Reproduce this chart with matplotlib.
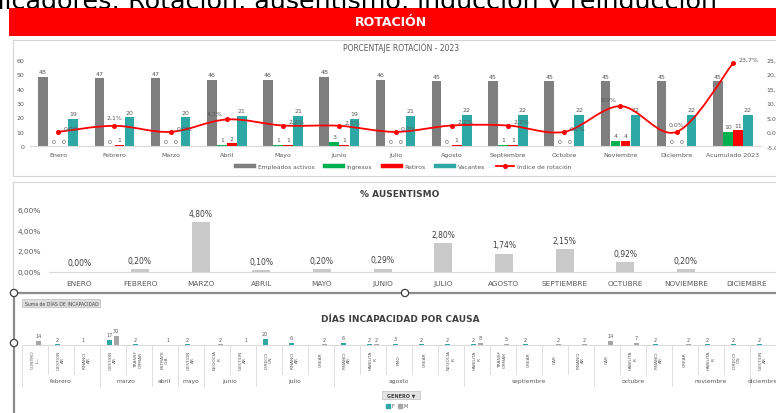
import numpy as np
import matplotlib.pyplot as plt
from matplotlib.path import Path
from matplotlib.patches import PathPatch, Rectangle, Circle, Patch
from matplotlib.lines import Line2D
from matplotlib.ticker import FuncFormatter

W, H = 776, 414

# ─────────────────────────────────────────────
#  Datos
# ─────────────────────────────────────────────
meses_rot = ["Enero", "Febrero", "Marzo", "Abril", "Mayo", "Junio", "Julio", "Agosto",
             "Septiembre", "Octubre", "Noviembre", "Diciembre", "Acumulado 2023"]
empleados = [48, 47, 47, 46, 46, 48, 46, 45, 45, 45, 45, 45, 45]
ingresos = [0, 0, 0, 1, 1, 3, 0, 0, 1, 0, 4, 0, 10]
retiros = [0, 1, 0, 2, 1, 1, 0, 1, 1, 0, 4, 0, 11]
vacantes = [19, 20, 20, 21, 21, 19, 21, 22, 22, 22, 22, 22, 22]
indice_rot = [0.0, 2.1, 0.0, 4.3, 2.2, 2.1, 0.0, 2.2, 2.2, 0.0, 8.9, 0.0, 23.7]

meses_aus = ["ENERO", "FEBRERO", "MARZO", "ABRIL", "MAYO", "JUNIO", "JULIO", "AGOSTO",
             "SEPTIEMBRE", "OCTUBRE", "NOVIEMBRE", "DICIEMBRE"]
ausentismo = [0.00, 0.20, 4.80, 0.10, 0.20, 0.29, 2.80, 1.74, 2.15, 0.92, 0.20, np.nan]

meses_inc = ["febrero", "marzo", "abril", "mayo", "junio", "julio", "agosto",
             "septiembre", "octubre", "noviembre", "diciembre"]
causas_por_mes = [3, 2, 1, 1, 2, 3, 5, 5, 3, 3, 1]
causas = ["CONTRO\nL...", "GESTION\nAR", "FINANCI\nAR",
          "GESTION\nAR", "TRANSF\nORMAR",
          "ESTRATE\nGIA",
          "GESTION\nAR",
          "NEGOCIA\nR", "GESTION\nAR",
          "DIRECCI\nÓN", "FINANCI\nAR", "CREAR",
          "FINANCI\nAR", "HABILITA\nR", "PMO", "CREAR", "NEGOCIA\nR",
          "HABILITA\nR", "TRANSF\nORMAR", "CREAR", "CAR", "FINANCI\nAR",
          "CAR", "HABILITA\nR", "FINANCI\nAR",
          "CREAR", "HABILITA\nR", "DIRECCI\nÓN",
          "GESTION\nAR"]
dias_f = [0, 2, 1, 17, 2, 0, 2, 0, 0, 20, 6, 0, 6, 2, 3, 2, 2, 2, 0, 2, 0, 0, 0, 0, 2, 0, 2, 2, 2]
dias_m = [14, 0, 0, 30, 0, 1, 0, 2, 1, 0, 0, 2, 0, 2, 0, 0, 0, 8, 5, 0, 2, 2, 14, 7, 0, 2, 0, 0, 0]

# colores
GRIS = "#7f7f7f"
VERDE = "#00b050"
ROJO = "#ff0000"
TEAL = "#2ea8a4"
GRIS_M = "#a6a6a6"
TXT = "#595959"

# posición de la etiqueta del índice respecto al punto (d=derecha, a=arriba, i=izq.)
POS_ETQ = ["d", "a", "d", "i", "d", "d", "d", "d", "d", "d", "i", "a", "d"]
OFFSETS = {"d": ((4, 1), "left"), "a": ((0, 4), "center"), "i": ((-3, 3), "right")}


def px_axes(fig, x0, y0, x1, y1):
    """Axes placed by pixel box (origin top-left)."""
    return fig.add_axes([x0 / W, 1 - y1 / H, (x1 - x0) / W, (y1 - y0) / H])


def coma(v, dec):
    return f"{v:.{dec}f}".replace(".", ",")


def smooth_path(xs, ys):
    """Curva suavizada tipo Excel (Catmull-Rom como Bezier cubico)."""
    pts = np.column_stack([xs, ys]).astype(float)
    verts = [pts[0]]
    codes = [Path.MOVETO]
    n = len(pts)
    for i in range(n - 1):
        p0 = pts[max(i - 1, 0)]
        p1 = pts[i]
        p2 = pts[i + 1]
        p3 = pts[min(i + 2, n - 1)]
        verts += [p1 + (p2 - p0) / 6, p2 - (p3 - p1) / 6, p2]
        codes += [Path.CURVE4] * 3
    return Path(verts, codes)


fig = plt.figure(figsize=(W / 100, H / 100), dpi=100)
fig.patch.set_facecolor("white")

# lienzo base para encabezado, marcos y botones
base = fig.add_axes([0, 0, 1, 1])
base.set_xlim(0, W)
base.set_ylim(H, 0)
base.axis("off")

base.text(717, 8.5, "Indicadores: Rotación, ausentismo, inducción y reinducción",
          fontsize=18.3, color="black", ha="right", va="baseline", zorder=0.5)
base.add_patch(Rectangle((9, 9), W - 9, 28, color=ROJO, lw=0, zorder=1))
base.text(391, 23, "ROTACIÓN", fontsize=9, color="white", fontweight="bold",
          ha="center", va="center")

base.add_patch(Rectangle((13, 41), W, 136, fill=False, ec="#d4d4d4", lw=0.8))
base.add_patch(Rectangle((13, 183), W, 111, fill=False, ec="#d4d4d4", lw=0.8))

# ---------------- Porcentaje rotación ----------------
ax = px_axes(fig, 30, 60.7, 761, 147.3)
ax.patch.set_visible(False)
x = np.arange(len(meses_rot))
bw = 0.17
series = [(empleados, GRIS, -0.267), (ingresos, VERDE, -0.089),
          (retiros, ROJO, 0.089), (vacantes, TEAL, 0.267)]
for vals, col, off in series:
    b = ax.bar(x + off, vals, bw, color=col, lw=0)
    ax.bar_label(b, padding=2, fontsize=4.5, color=TXT)
ax.set_xlim(-0.5, len(meses_rot) - 0.5)
ax.set_ylim(0, 60)
ax.set_yticks(range(0, 61, 10))
ax.set_xticks(x)
ax.set_xticklabels(meses_rot)
ax.tick_params(length=0, labelsize=4.5, labelcolor=TXT, pad=4)
for s in ["top", "right", "left"]:
    ax.spines[s].set_visible(False)
ax.spines["bottom"].set_color("#d9d9d9")

ax2 = ax.twinx()
ax2.set_ylim(-5, 25)
ax2.set_yticks(range(-5, 26, 5))
ax2.yaxis.set_major_formatter(FuncFormatter(lambda v, p: coma(v, 1) + "%"))
ax2.tick_params(length=0, labelsize=4.5, labelcolor=TXT, pad=4)
for s in ax2.spines.values():
    s.set_visible(False)
ax2.add_patch(PathPatch(smooth_path(x, indice_rot), fill=False, ec=ROJO, lw=1.3))
ax2.plot(x, indice_rot, "o", color=ROJO, ms=2.6)
for xi, v, pos in zip(x, indice_rot, POS_ETQ):
    off, ha = OFFSETS[pos]
    ax2.annotate(coma(v, 1) + "%", (xi, v), xytext=off, textcoords="offset points",
                 fontsize=4.5, color=TXT, ha=ha, va="bottom")

base.text(401, 47.5, "PORCENTAJE ROTACIÓN - 2023", fontsize=5.5, color=TXT,
          ha="center", va="center")

rot_handles = [Line2D([], [], color=GRIS, lw=3.2),
               Line2D([], [], color=VERDE, lw=3.2),
               Line2D([], [], color=ROJO, lw=3.2),
               Line2D([], [], color=TEAL, lw=3.2),
               Line2D([], [], color=ROJO, lw=1.3, marker="o", ms=2.6)]
fig.legend(rot_handles, ["Empleados activos", "Ingresos", "Retiros", "Vacantes",
                         "Índice de rotación"],
           loc="center", bbox_to_anchor=(404 / W, 1 - 167 / H), ncol=5, frameon=False,
           fontsize=4.3, handlelength=3.0, columnspacing=1.8, handletextpad=0.6,
           labelcolor=TXT)

# ---------------- % Ausentismo ----------------
axa = px_axes(fig, 49, 211, 777, 272.5)
axa.patch.set_visible(False)
xa = np.arange(len(meses_aus))
ba = axa.bar(xa, ausentismo, 0.3, color="#c9c9c9", lw=0)
axa.bar_label(ba, labels=["" if np.isnan(v) else coma(v, 2) + "%" for v in ausentismo],
              padding=3, fontsize=5.5, color="#404040")
axa.set_xlim(-0.5, len(meses_aus) - 0.5)
axa.set_ylim(0, 6)
axa.set_yticks([0, 2, 4, 6])
axa.yaxis.set_major_formatter(FuncFormatter(lambda v, p: coma(v, 2) + "%"))
axa.set_xticks(xa)
axa.set_xticklabels(meses_aus)
axa.tick_params(length=0, labelsize=5.3, labelcolor=TXT, pad=6)
for s in ["top", "right", "left"]:
    axa.spines[s].set_visible(False)
axa.spines["bottom"].set_color("#d9d9d9")
base.text(400, 195, "% AUSENTISMO", fontsize=6.5, color="#404040", fontweight="semibold",
          ha="center", va="center")

# ---------------- Días incapacidad por causa ----------------
base.plot([14, W], [294, 294], color="#8c8c8c", lw=1.6, solid_capstyle="butt")
base.plot([14, 14], [294, H], color="#8c8c8c", lw=1.6, solid_capstyle="butt")
for cx, cy in [(14, 294), (405, 294), (14, 344)]:
    base.add_patch(Circle((cx, cy), 3.6, fc="white", ec="#404040", lw=0.9, zorder=5))

base.add_patch(Rectangle((22, 300), 78, 8, fc="#dedede", ec="#bdbdbd", lw=0.5))
base.text(25, 304.2, "Suma de DÍAS DE INCAPACIDAD", fontsize=3.3, color="#404040",
          ha="left", va="center")
base.text(400, 320, "DÍAS INCAPACIDAD POR CAUSA", fontsize=6.5, color="#404040",
          fontweight="semibold", ha="center", va="center")

n_c = len(causas)
axi = px_axes(fig, 21.7, 326, 775.7, 346)
axi.patch.set_visible(False)
xi = np.arange(n_c)
bf = axi.bar(xi - 0.135, dias_f, 0.19, color=TEAL, lw=0)
bm = axi.bar(xi + 0.135, dias_m, 0.19, color=GRIS_M, lw=0)
axi.bar_label(bf, labels=[str(v) if v else "" for v in dias_f], padding=2,
              fontsize=3.6, color=TXT)
axi.bar_label(bm, labels=[str(v) if v else "" for v in dias_m], padding=2,
              fontsize=3.6, color=TXT)
axi.set_xlim(-0.5, n_c - 0.5)
axi.set_ylim(0, 66.7)
axi.set_xticks([])
axi.set_yticks([])
for s in ["top", "right", "left"]:
    axi.spines[s].set_visible(False)
axi.spines["bottom"].set_color("#d9d9d9")
axi.spines["bottom"].set_linewidth(0.7)

# zona de etiquetas del eje (causa / mes)
axl = px_axes(fig, 21.7, 346, 775.7, 392)
axl.set_xlim(-0.5, n_c - 0.5)
axl.set_ylim(46, 0)
axl.axis("off")
limites = np.cumsum([0] + causas_por_mes) - 0.5
for k in range(n_c + 1):
    borde = k - 0.5
    bottom = 41 if borde in limites else 29
    axl.plot([borde, borde], [0, bottom], color="#d9d9d9", lw=0.6, clip_on=False)
for k, c in enumerate(causas):
    axl.text(k, 14, c, rotation=90, fontsize=3.2, color=TXT, ha="center", va="center",
             multialignment="center", linespacing=1.3)
for m, a, b in zip(meses_inc, limites[:-1], limites[1:]):
    axl.text((a + b) / 2, 36, m, fontsize=4.3, color=TXT, ha="center", va="center",
             clip_on=False)

base.add_patch(Rectangle((382, 392), 38, 8, fc="#e4e4e4", ec="#bdbdbd", lw=0.5))
base.text(401, 396.2, "GENERO ▼", fontsize=3.5, color="#404040", fontweight="bold",
          ha="center", va="center")
fig.legend([Patch(color=TEAL), Patch(color=GRIS_M)], ["F", "M"], loc="center",
           bbox_to_anchor=(397 / W, 1 - 407 / H), ncol=2, frameon=False, fontsize=3.5,
           handlelength=0.7, handleheight=0.7, handletextpad=0.4, columnspacing=0.8,
           labelcolor=TXT)

fig.savefig("out.png", dpi=100, facecolor="white")
